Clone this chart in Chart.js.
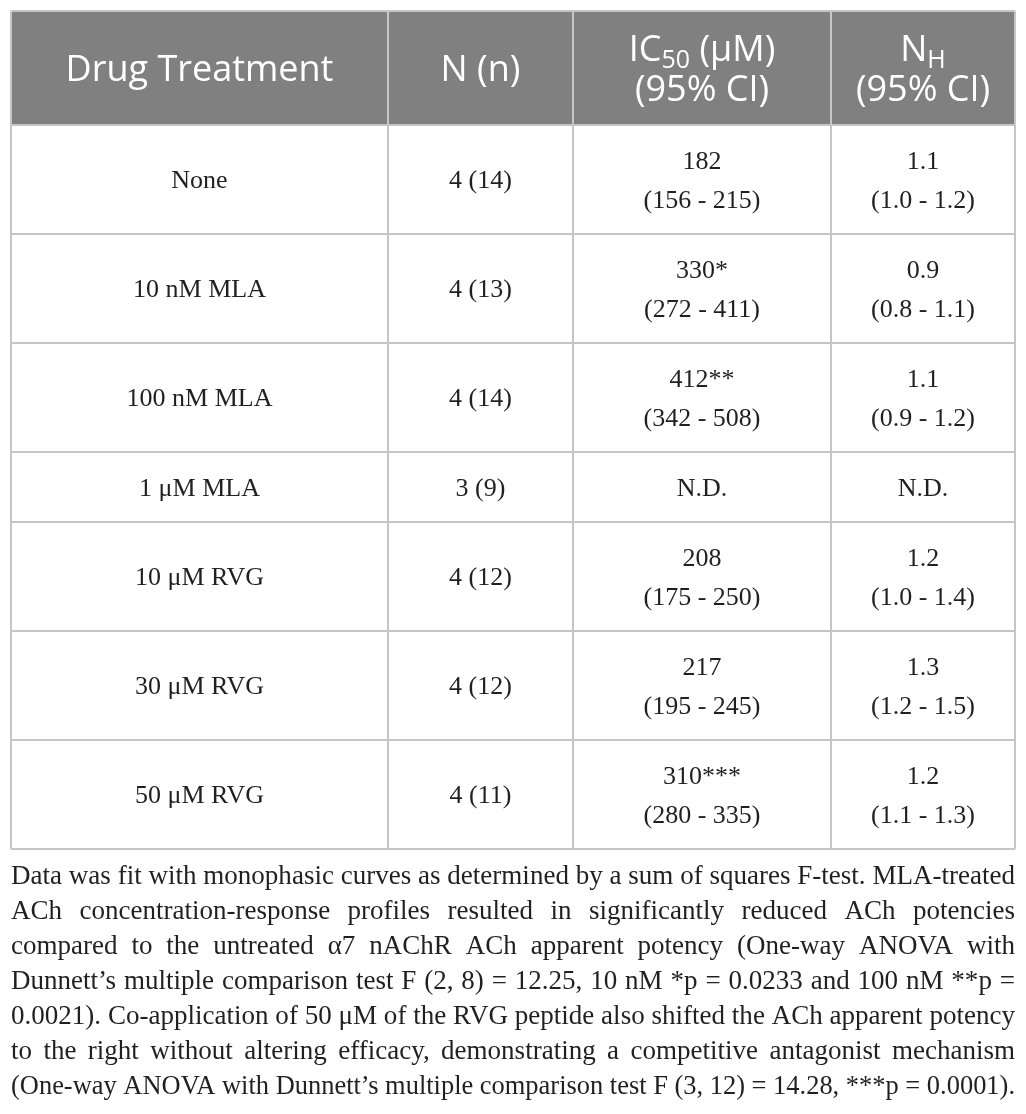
<!DOCTYPE html>
<html>
<head>
    <title>IC50 table</title>
    <script src="https://cdn.jsdelivr.net/npm/chart.js"></script>
    <style>
        html, body { margin: 0; padding: 0; background: #fff; }
        #wrap { width: 1026px; height: 1114px; }
    </style>
</head>
<body>
    <div id="wrap"><canvas id="tableChart"></canvas></div>

    <script>
        // table data
        const headers = ['Drug Treatment', 'N (n)', 'IC_{50} (μM)\n(95% CI)', 'N_{H}\n(95% CI)'];
        const treatments = ['None', '10 nM MLA', '100 nM MLA', '1 μM MLA', '10 μM RVG', '30 μM RVG', '50 μM RVG'];
        const nCounts = ['4 (14)', '4 (13)', '4 (14)', '3 (9)', '4 (12)', '4 (12)', '4 (11)'];
        const ic50 = ['182', '330*', '412**', 'N.D.', '208', '217', '310***'];
        const ic50CI = ['(156 - 215)', '(272 - 411)', '(342 - 508)', '', '(175 - 250)', '(195 - 245)', '(280 - 335)'];
        const nh = ['1.1', '0.9', '1.1', 'N.D.', '1.2', '1.3', '1.2'];
        const nhCI = ['(1.0 - 1.2)', '(0.8 - 1.1)', '(0.9 - 1.2)', '', '(1.0 - 1.4)', '(1.2 - 1.5)', '(1.1 - 1.3)'];

        const captionLines = [
            'Data was fit with monophasic curves as determined by a sum of squares F-test. MLA-treated',
            'ACh concentration-response profiles resulted in significantly reduced ACh potencies',
            'compared to the untreated α7 nAChR ACh apparent potency (One-way ANOVA with',
            'Dunnett’s multiple comparison test F (2, 8) = 12.25, 10 nM *p = 0.0233 and 100 nM **p =',
            '0.0021). Co-application of 50 μM of the RVG peptide also shifted the ACh apparent potency',
            'to the right without altering efficacy, demonstrating a competitive antagonist mechanism',
            '(One-way ANOVA with Dunnett’s multiple comparison test F (3, 12) = 14.28, ***p = 0.0001).'
        ];

        // layout
        const colEdges = [0, 377, 562, 820, 1004];
        const HEADER_H = 114;
        const LINE = '#c6c6c6';
        const HEAD_BG = '#808080';
        const INK = '#231f20';
        const SANS = '"Open Sans", "Noto Sans", sans-serif';
        const SERIF = '"Liberation Serif", "DejaVu Serif", serif';

        const rows = treatments.map((t, i) => [
            [t],
            [nCounts[i]],
            ic50CI[i] ? [ic50[i], ic50CI[i]] : [ic50[i]],
            nhCI[i] ? [nh[i], nhCI[i]] : [nh[i]]
        ]);
        const rowHeights = rows.map(r => 31 + 39 * Math.max(...r.map(c => c.length)));

        const rowEdges = [0, HEADER_H];
        rowHeights.forEach(h => rowEdges.push(rowEdges[rowEdges.length - 1] + h));
        const TABLE_H = rowEdges[rowEdges.length - 1];
        const TABLE_W = colEdges[colEdges.length - 1];

        // one point per cell, at its centre
        const cells = [];
        headers.forEach((h, c) => cells.push({
            x: (colEdges[c] + colEdges[c + 1]) / 2, y: HEADER_H / 2,
            lines: h.split('\n'), header: true
        }));
        rows.forEach((r, i) => r.forEach((lines, c) => cells.push({
            x: (colEdges[c] + colEdges[c + 1]) / 2, y: (rowEdges[i + 1] + rowEdges[i + 2]) / 2,
            lines: lines, header: false
        })));

        function parseRich(str) {
            const parts = [];
            const re = /_\{([^}]*)\}/g;
            let last = 0, m;
            while ((m = re.exec(str))) {
                if (m.index > last) parts.push({ t: str.slice(last, m.index), sub: false });
                parts.push({ t: m[1], sub: true });
                last = re.lastIndex;
            }
            if (last < str.length) parts.push({ t: str.slice(last), sub: false });
            return parts;
        }

        function drawRich(ctx, str, cx, baseY, size, family) {
            const parts = parseRich(str);
            const subSize = Math.round(size * 0.7);
            let w = 0;
            parts.forEach(p => {
                ctx.font = (p.sub ? subSize : size) + 'px ' + family;
                p.w = ctx.measureText(p.t).width;
                w += p.w;
            });
            let x = cx - w / 2;
            parts.forEach(p => {
                ctx.font = (p.sub ? subSize : size) + 'px ' + family;
                ctx.fillText(p.t, x, baseY + (p.sub ? size * 0.2 : 0));
                x += p.w;
            });
        }

        const tablePlugin = {
            id: 'tablePlugin',
            beforeDraw(chart) {
                const ctx = chart.ctx;
                const xs = chart.scales.x, ys = chart.scales.y;
                ctx.save();
                ctx.fillStyle = HEAD_BG;
                const x0 = xs.getPixelForValue(0), x1 = xs.getPixelForValue(TABLE_W);
                const y0 = ys.getPixelForValue(0), y1 = ys.getPixelForValue(HEADER_H);
                ctx.fillRect(x0, y0, x1 - x0, y1 - y0);
                ctx.restore();
            },
            afterDatasetsDraw(chart) {
                const ctx = chart.ctx;
                const meta = chart.getDatasetMeta(0);
                const data = chart.data.datasets[0].data;
                ctx.save();
                ctx.textAlign = 'left';
                ctx.textBaseline = 'alphabetic';
                meta.data.forEach((pt, i) => {
                    const cell = data[i];
                    const size = cell.header ? 36 : 26;
                    const gap = cell.header ? 40 : 39;
                    const capH = cell.header ? size * 0.714 : size * 0.66;
                    ctx.fillStyle = cell.header ? '#ffffff' : INK;
                    const n = cell.lines.length;
                    cell.lines.forEach((line, k) => {
                        const baseY = pt.y + (k - (n - 1) / 2) * gap + capH / 2;
                        drawRich(ctx, line, pt.x, baseY, size, cell.header ? SANS : SERIF);
                    });
                });
                ctx.restore();
            },
            afterDraw(chart) {
                const ctx = chart.ctx;
                const left = chart.chartArea.left, width = chart.chartArea.right - left;
                const top = chart.chartArea.bottom;
                ctx.save();
                ctx.fillStyle = INK;
                // first line sits at natural spacing in the source, size the font from it
                ctx.font = '26px ' + SERIF;
                let size = 26 * width / ctx.measureText(captionLines[0]).width;
                size = Math.min(28, Math.max(24, size));
                ctx.font = size.toFixed(2) + 'px ' + SERIF;
                ctx.textBaseline = 'alphabetic';
                captionLines.forEach((line, i) => {
                    const y = top + 35 + i * 35;
                    const words = line.split(' ');
                    const ww = words.map(w => ctx.measureText(w).width);
                    const textW = ww.reduce((a, b) => a + b, 0);
                    const space = ctx.measureText(' ').width;
                    const natural = textW + space * (words.length - 1);
                    if (natural > width) {
                        ctx.save();
                        ctx.translate(left, y);
                        ctx.scale(width / natural, 1);
                        ctx.fillText(line, 0, 0);
                        ctx.restore();
                    } else {
                        const g = (width - textW) / (words.length - 1);
                        let x = left;
                        words.forEach((w, k) => {
                            ctx.fillText(w, x, y);
                            x += ww[k] + g;
                        });
                    }
                });
                ctx.restore();
            }
        };

        function edgeTicks(edges) {
            return scale => { scale.ticks = edges.map(v => ({ value: v })); };
        }

        new Chart(document.getElementById('tableChart'), {
            type: 'scatter',
            data: {
                datasets: [{
                    data: cells,
                    pointRadius: 0,
                    pointHoverRadius: 0
                }]
            },
            options: {
                responsive: true,
                maintainAspectRatio: false,
                animation: false,
                events: [],
                layout: { padding: { left: 11, right: 11, top: 11, bottom: 265 } },
                plugins: { legend: { display: false }, tooltip: { enabled: false } },
                scales: {
                    x: {
                        type: 'linear', min: 0, max: TABLE_W,
                        afterBuildTicks: edgeTicks(colEdges),
                        ticks: { display: false },
                        grid: { color: LINE, lineWidth: 2, drawTicks: false },
                        border: { display: false }
                    },
                    y: {
                        type: 'linear', min: 0, max: TABLE_H, reverse: true,
                        afterBuildTicks: edgeTicks(rowEdges),
                        ticks: { display: false },
                        grid: { color: LINE, lineWidth: 2, drawTicks: false },
                        border: { display: false }
                    }
                }
            },
            plugins: [tablePlugin]
        });
    </script>
</body>
</html>
